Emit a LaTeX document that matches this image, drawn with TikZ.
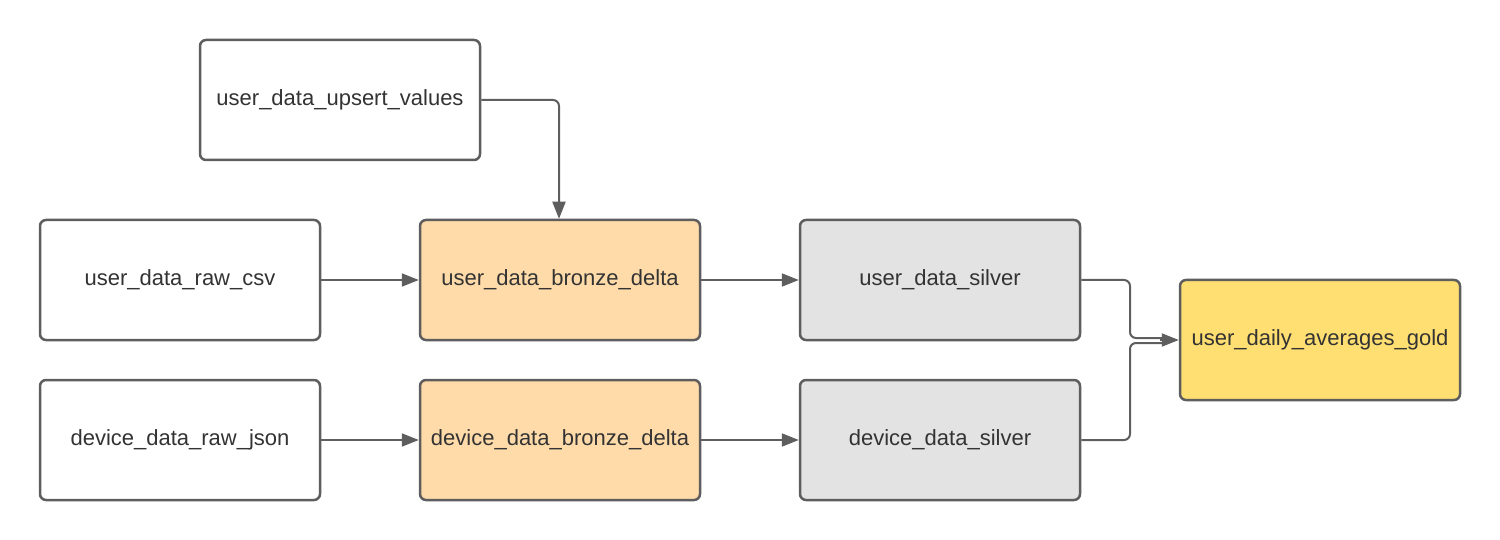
\documentclass[tikz,border=0pt]{standalone}
\usepackage{fontspec}
\setmainfont{Liberation Sans}
\usetikzlibrary{arrows.meta}
\definecolor{edge}{HTML}{5E5E5E}
\definecolor{bronze}{HTML}{FFDBA9}
\definecolor{silver}{HTML}{E3E3E3}
\definecolor{gold}{HTML}{FFDF71}
\definecolor{txt}{HTML}{333333}
\tikzset{
  box/.style={draw=edge, line width=2.5pt, rounded corners=6pt, minimum width=280pt, minimum height=120pt, inner sep=0pt, font=\fontsize{22}{26}\selectfont, text=txt, fill=white},
  bronzebox/.style={box, fill=bronze},
  silverbox/.style={box, fill=silver},
  goldbox/.style={box, fill=gold},
  conn/.style={draw=edge, line width=2pt},
  arr/.style={conn, -{Triangle[length=17pt,width=13pt]}},
}
\begin{document}
\begin{tikzpicture}[x=1pt,y=-1pt]
\useasboundingbox (0,0) rectangle (1500,540);
\node[box] (up) at (340,100) {user\_data\_upsert\_values};
\node[box] (csv) at (180,280) {user\_data\_raw\_csv};
\node[box] (json) at (180,440) {device\_data\_raw\_json};
\node[bronzebox] (ub) at (560,280) {user\_data\_bronze\_delta};
\node[bronzebox] (db) at (560,440) {device\_data\_bronze\_delta};
\node[silverbox] (us) at (940,280) {user\_data\_silver};
\node[silverbox] (ds) at (940,440) {device\_data\_silver};
\node[goldbox] (g) at (1320,340) {user\_daily\_averages\_gold};
\draw[arr, rounded corners=6pt] (up.east) -| ([xshift=-1pt]ub.north);
\draw[arr] (csv.east) -- (ub.west);
\draw[arr] (json.east) -- (db.west);
\draw[arr] (ub.east) -- (us.west);
\draw[arr] (db.east) -- (ds.west);
\coordinate (j1) at (1130,338);
\coordinate (j2) at (1130,343);
\coordinate (t) at (1160,340);
\draw[conn, rounded corners=6pt] (us.east) -| (j1) -- (1168,338);
\draw[conn, rounded corners=6pt] (ds.east) -| (j2) -- (1168,343);
\draw[arr] (t) -- (g.west);
\end{tikzpicture}
\end{document}
